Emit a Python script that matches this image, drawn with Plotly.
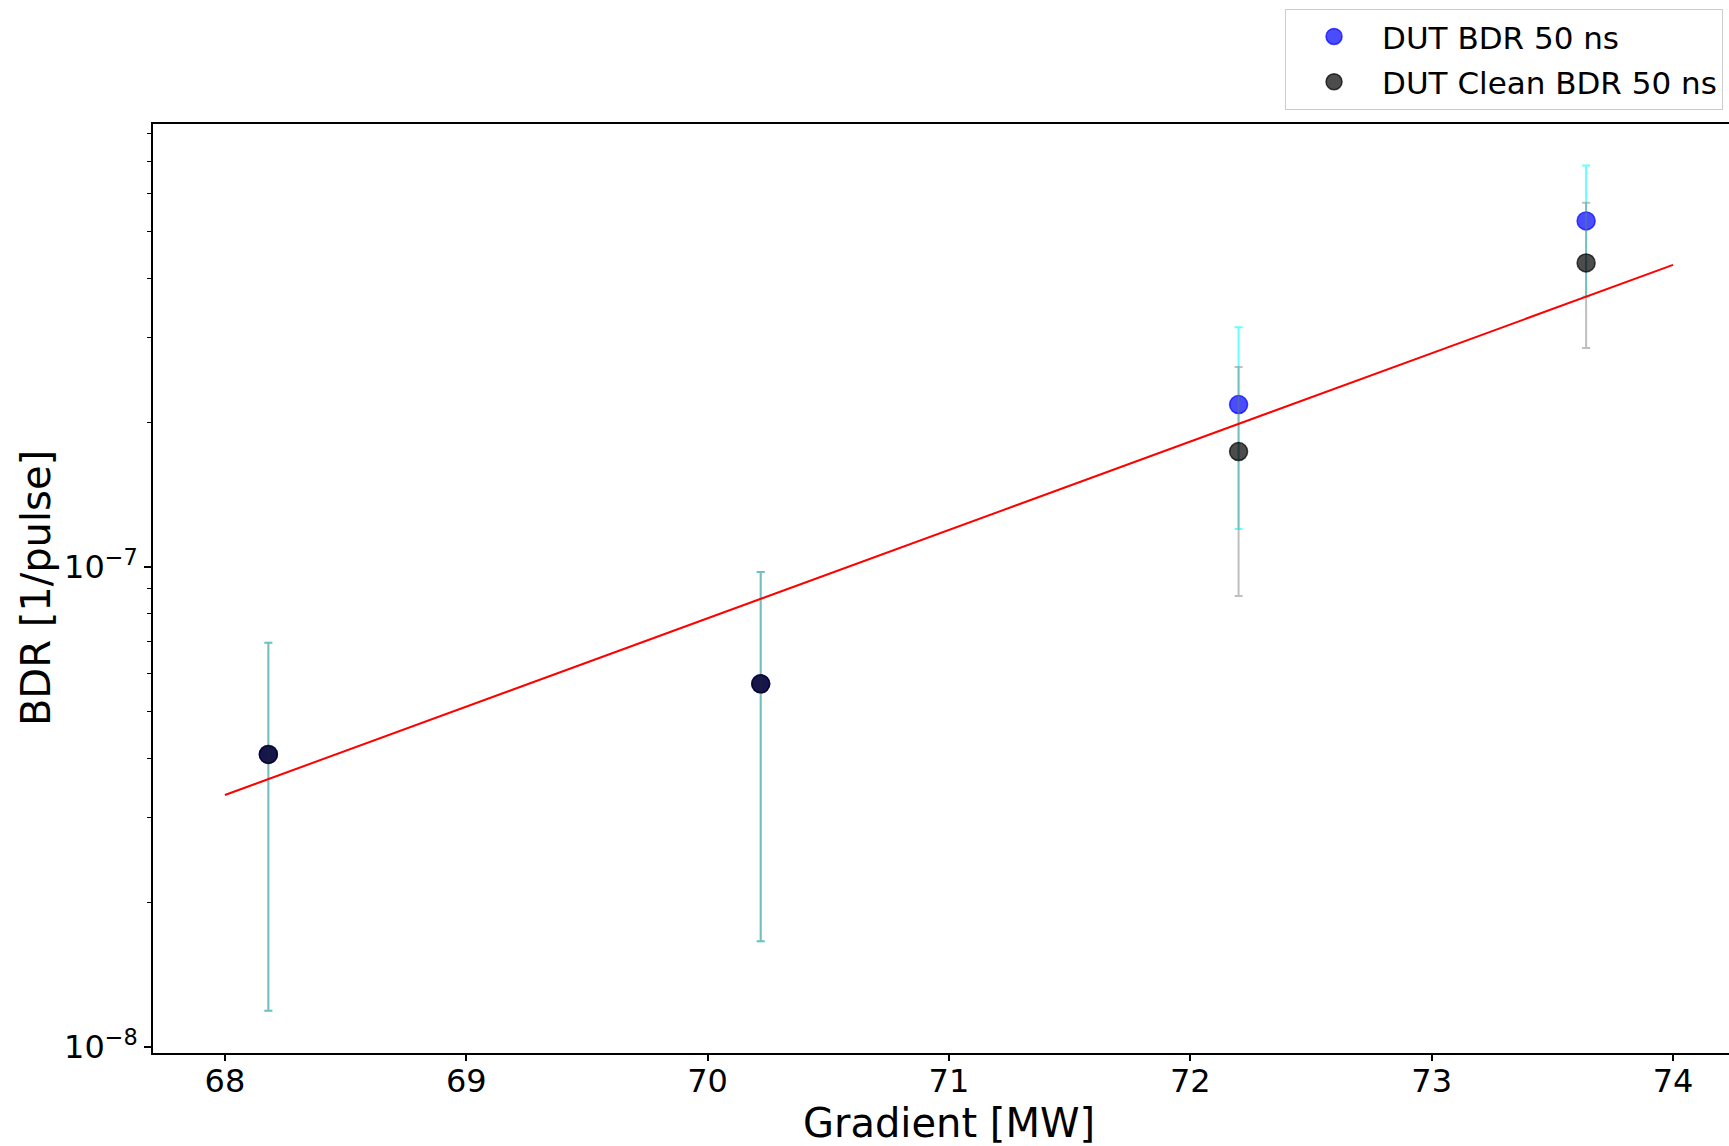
import plotly.graph_objects as go

# ---- data ----
gradient = [68.18, 70.22, 72.20, 73.64]
bdr = [4.07e-8, 5.71e-8, 2.18e-7, 5.26e-7]
bdr_err = [2.88e-8, 4.05e-8, 0.98e-7, 1.60e-7]
clean_bdr = [4.07e-8, 5.71e-8, 1.74e-7, 4.30e-7]
clean_err = [2.88e-8, 4.05e-8, 0.87e-7, 1.44e-7]
fit_x = [68.0, 74.0]
fit_y = [3.35e-8, 4.26e-7]

y_major = [1e-8, 1e-7]
y_major_text = ["10<sup>−8</sup>", "10<sup>−7</sup>"]
y_minor = [2e-8, 3e-8, 4e-8, 5e-8, 6e-8, 7e-8, 8e-8, 9e-8,
           2e-7, 3e-7, 4e-7, 5e-7, 6e-7, 7e-7, 8e-7]
x_ticks = [68, 69, 70, 71, 72, 73, 74]

FONT = "DejaVu Sans"

fig = go.Figure()
fig.add_trace(go.Scatter(
    x=gradient, y=bdr, mode="markers", name="DUT BDR 50 ns",
    legendgroup="a",
    marker=dict(size=18, color="rgba(0,0,255,0.7)",
                line=dict(color="rgba(0,0,255,0.7)", width=1.5)),
    error_y=dict(type="data", array=bdr_err, visible=True,
                 color="rgba(0,255,255,0.6)", thickness=2, width=4),
))
fig.add_trace(go.Scatter(
    x=gradient, y=clean_bdr, mode="markers", name="DUT Clean BDR 50 ns",
    legendgroup="b",
    marker=dict(size=18, color="rgba(0,0,0,0.7)",
                line=dict(color="rgba(0,0,0,0.7)", width=1.5)),
    error_y=dict(type="data", array=clean_err, visible=True,
                 color="rgba(128,128,128,0.5)", thickness=2, width=4),
))
fig.add_trace(go.Scatter(
    x=fit_x, y=fit_y, mode="lines", showlegend=False,
    line=dict(color="red", width=2),
))

fig.update_layout(
    width=1729, height=1146,
    margin=dict(l=153, r=0, t=124, b=93),
    plot_bgcolor="white", paper_bgcolor="white",
    font=dict(family=FONT, size=32, color="black"),
    showlegend=True,
    legend=dict(x=0.7183, y=1.124, xanchor="left", yanchor="top",
                bgcolor="white", bordercolor="#cccccc", borderwidth=1,
                itemwidth=86, tracegroupgap=2,
                font=dict(family=FONT, size=31, color="black")),
    annotations=[
        dict(text="Gradient [MW]", xref="paper", yref="paper",
             x=0.505, y=-0.075, xanchor="center", yanchor="middle",
             showarrow=False, font=dict(family=FONT, size=40, color="black")),
        dict(text="BDR [1/pulse]", xref="paper", yref="paper",
             x=-0.0745, y=0.5, xanchor="center", yanchor="middle", textangle=-90,
             showarrow=False, font=dict(family=FONT, size=40, color="black")),
    ],
)
fig.update_xaxes(
    range=[67.702, 74.232], tickvals=x_ticks,
    showline=True, linecolor="black", linewidth=1.5, mirror=True,
    ticks="outside", ticklen=6, tickwidth=1.5, tickcolor="black",
    ticklabelstandoff=-7,
    showgrid=False, zeroline=False,
    tickfont=dict(family=FONT, size=32, color="black"),
)
fig.update_yaxes(
    type="log", range=[-8.0125, -6.0771],
    tickvals=y_major, ticktext=y_major_text,
    showline=True, linecolor="black", linewidth=1.5, mirror=False,
    ticks="outside", ticklen=7, tickwidth=1.5, tickcolor="black",
    minor=dict(tickvals=y_minor, ticks="outside", ticklen=4,
               tickwidth=1.2, tickcolor="black", showgrid=False),
    showgrid=False, zeroline=False,
    tickfont=dict(family=FONT, size=32, color="black"),
)

fig.write_html(
    "out.html",
    config={"displayModeBar": False},
    post_script="document.body.style.margin='0';document.body.style.overflow='hidden';",
)
